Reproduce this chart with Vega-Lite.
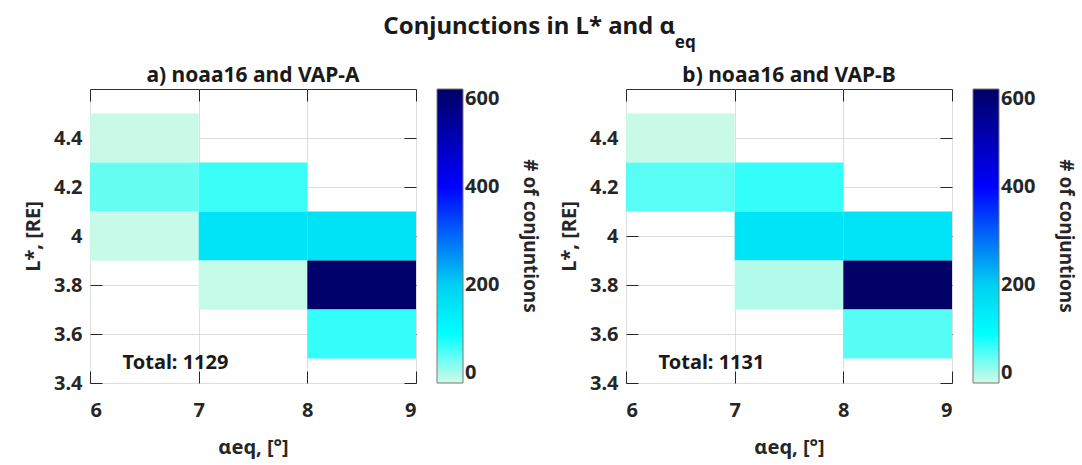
{
  "$schema": "https://vega.github.io/schema/vega-lite/v6.json",
  "background": "white",
  "padding": {"left": 23, "top": 15, "right": 5, "bottom": 5},
  "datasets": {
    "cells": [
      {"panel": "a", "a0": 6, "a1": 7, "l0": 4.3, "l1": 4.5, "n": 5},
      {"panel": "a", "a0": 6, "a1": 7, "l0": 4.1, "l1": 4.3, "n": 52},
      {"panel": "a", "a0": 6, "a1": 7, "l0": 3.9, "l1": 4.1, "n": 6},
      {"panel": "a", "a0": 7, "a1": 8, "l0": 4.1, "l1": 4.3, "n": 72},
      {"panel": "a", "a0": 7, "a1": 8, "l0": 3.9, "l1": 4.1, "n": 157},
      {"panel": "a", "a0": 7, "a1": 8, "l0": 3.7, "l1": 3.9, "n": 8},
      {"panel": "a", "a0": 8, "a1": 9, "l0": 3.9, "l1": 4.1, "n": 160},
      {"panel": "a", "a0": 8, "a1": 9, "l0": 3.7, "l1": 3.9, "n": 593},
      {"panel": "a", "a0": 8, "a1": 9, "l0": 3.5, "l1": 3.7, "n": 76},
      {"panel": "b", "a0": 6, "a1": 7, "l0": 4.3, "l1": 4.5, "n": 5},
      {"panel": "b", "a0": 6, "a1": 7, "l0": 4.1, "l1": 4.3, "n": 58},
      {"panel": "b", "a0": 7, "a1": 8, "l0": 4.1, "l1": 4.3, "n": 76},
      {"panel": "b", "a0": 7, "a1": 8, "l0": 3.9, "l1": 4.1, "n": 157},
      {"panel": "b", "a0": 7, "a1": 8, "l0": 3.7, "l1": 3.9, "n": 16},
      {"panel": "b", "a0": 8, "a1": 9, "l0": 3.9, "l1": 4.1, "n": 158},
      {"panel": "b", "a0": 8, "a1": 9, "l0": 3.7, "l1": 3.9, "n": 601},
      {"panel": "b", "a0": 8, "a1": 9, "l0": 3.5, "l1": 3.7, "n": 60}
    ],
    "totals": [
      {"panel": "a", "label": "Total: 1129"},
      {"panel": "b", "label": "Total: 1131"}
    ]
  },
  "title": {
    "text": "Conjunctions in L* and α",
    "anchor": "middle",
    "frame": "bounds",
    "dx": -20,
    "fontSize": 24,
    "font": "Noto Sans",
    "fontWeight": "bold",
    "color": "#1a1a1a",
    "offset": -5
  },
  "vconcat": [
    {
      "title": {"text": "eq", "anchor": "middle", "frame": "bounds", "dx": 136, "fontSize": 17, "font": "Noto Sans", "fontWeight": "bold", "color": "#1a1a1a", "offset": 12},
      "spacing": 19,
      "resolve": {"scale": {"color": "independent"}, "legend": {"color": "independent"}},
      "hconcat": [
        {
          "width": 326,
          "height": 294,
          "title": {"text": "a) noaa16 and VAP-A", "frame": "group", "anchor": "middle"},
          "resolve": {"axis": {"x": "independent", "y": "independent"}},
          "layer": [
            {
              "data": {"name": "cells"},
              "transform": [{"filter": "datum.panel === 'a'"}],
              "mark": {"type": "rect", "strokeWidth": 0},
              "encoding": {
                "x": {"field": "a0", "type": "quantitative", "scale": {"domain": [6, 9], "nice": false, "zero": false},
                  "axis": {"orient": "bottom", "values": [6, 7, 8, 9], "format": "d", "title": "αeq, [°]", "tickSize": -12, "labelPadding": 29, "titlePadding": 17, "grid": true, "domain": false}},
                "x2": {"field": "a1"},
                "y": {"field": "l0", "type": "quantitative", "scale": {"domain": [3.4, 4.6], "nice": false, "zero": false},
                  "axis": {"orient": "left", "values": [3.4, 3.6, 3.8, 4, 4.2, 4.4], "format": "~g", "title": "L*, [RE]", "tickSize": -12, "labelPadding": 20, "titlePadding": 10, "grid": true, "domain": false}},
                "y2": {"field": "l1"},
                "color": {"field": "n", "type": "quantitative",
                  "scale": {"domain": [0, 100, 200, 400, 600], "range": ["#d4fae6", "#00ffff", "#00d0f2", "#0000ff", "#000066"], "interpolate": "rgb", "clamp": true},
                  "legend": {"title": "# of conjuntions"}}
              }
            },
            {
              "data": {"name": "totals"},
              "transform": [{"filter": "datum.panel === 'a'"}],
              "mark": {"type": "text", "align": "left", "baseline": "middle", "fontSize": 20, "fontWeight": "bold", "font": "Noto Sans", "color": "#1a1a1a"},
              "encoding": {
                "x": {"datum": 6.3, "type": "quantitative", "scale": {"domain": [6, 9], "nice": false, "zero": false},
                  "axis": {"orient": "top", "values": [6, 7, 8, 9], "labels": false, "title": null, "tickSize": -12, "grid": false, "domain": false}},
                "y": {"datum": 3.48, "type": "quantitative", "scale": {"domain": [3.4, 4.6], "nice": false, "zero": false},
                  "axis": {"orient": "right", "values": [3.4, 3.6, 3.8, 4, 4.2, 4.4], "labels": false, "title": null, "tickSize": -12, "grid": false, "domain": false}},
                "text": {"field": "label"}
              }
            }
          ]
        },
        {
          "width": 326,
          "height": 294,
          "title": {"text": "b) noaa16 and VAP-B", "frame": "group", "anchor": "middle"},
          "resolve": {"axis": {"x": "independent", "y": "independent"}},
          "layer": [
            {
              "data": {"name": "cells"},
              "transform": [{"filter": "datum.panel === 'b'"}],
              "mark": {"type": "rect", "strokeWidth": 0},
              "encoding": {
                "x": {"field": "a0", "type": "quantitative", "scale": {"domain": [6, 9], "nice": false, "zero": false},
                  "axis": {"orient": "bottom", "values": [6, 7, 8, 9], "format": "d", "title": "αeq, [°]", "tickSize": -12, "labelPadding": 29, "titlePadding": 17, "grid": true, "domain": false}},
                "x2": {"field": "a1"},
                "y": {"field": "l0", "type": "quantitative", "scale": {"domain": [3.4, 4.6], "nice": false, "zero": false},
                  "axis": {"orient": "left", "values": [3.4, 3.6, 3.8, 4, 4.2, 4.4], "format": "~g", "title": "L*, [RE]", "tickSize": -12, "labelPadding": 20, "titlePadding": 10, "grid": true, "domain": false}},
                "y2": {"field": "l1"},
                "color": {"field": "n", "type": "quantitative",
                  "scale": {"domain": [0, 100, 200, 400, 600], "range": ["#d4fae6", "#00ffff", "#00d0f2", "#0000ff", "#000066"], "interpolate": "rgb", "clamp": true},
                  "legend": {"title": "# of conjuntions"}}
              }
            },
            {
              "data": {"name": "totals"},
              "transform": [{"filter": "datum.panel === 'b'"}],
              "mark": {"type": "text", "align": "left", "baseline": "middle", "fontSize": 20, "fontWeight": "bold", "font": "Noto Sans", "color": "#1a1a1a"},
              "encoding": {
                "x": {"datum": 6.3, "type": "quantitative", "scale": {"domain": [6, 9], "nice": false, "zero": false},
                  "axis": {"orient": "top", "values": [6, 7, 8, 9], "labels": false, "title": null, "tickSize": -12, "grid": false, "domain": false}},
                "y": {"datum": 3.48, "type": "quantitative", "scale": {"domain": [3.4, 4.6], "nice": false, "zero": false},
                  "axis": {"orient": "right", "values": [3.4, 3.6, 3.8, 4, 4.2, 4.4], "labels": false, "title": null, "tickSize": -12, "grid": false, "domain": false}},
                "text": {"field": "label"}
              }
            }
          ]
        }
      ]
    }
  ],
  "config": {
    "font": "Noto Sans",
    "view": {"stroke": "#333333", "strokeWidth": 1},
    "title": {"fontSize": 21, "font": "Noto Sans", "fontWeight": "bold", "color": "#1a1a1a", "offset": 3},
    "axis": {
      "labelFont": "Noto Sans", "labelFontSize": 20, "labelFontWeight": "bold", "labelColor": "#262626",
      "titleFont": "Noto Sans", "titleFontSize": 20, "titleFontWeight": "bold", "titleColor": "#262626",
      "tickColor": "#262626", "tickWidth": 1, "gridColor": "#dedede", "gridWidth": 1
    },
    "legend": {
      "orient": "right", "offset": 20, "direction": "vertical",
      "gradientLength": 294, "gradientThickness": 26,
      "gradientStrokeColor": "#777777", "gradientStrokeWidth": 1,
      "values": [0, 200, 400, 600],
      "labelFont": "Noto Sans", "labelFontSize": 20, "labelFontWeight": "bold", "labelColor": "#262626",
      "labelOffset": 8, "labelBaseline": "middle", "labelOverlap": false,
      "titleFont": "Noto Sans", "titleFontSize": 19, "titleFontWeight": "bold", "titleColor": "#262626",
      "titleOrient": "right", "titleAngle": 270, "titleAnchor": "middle", "titleBaseline": "top", "titlePadding": 40
    }
  }
}
